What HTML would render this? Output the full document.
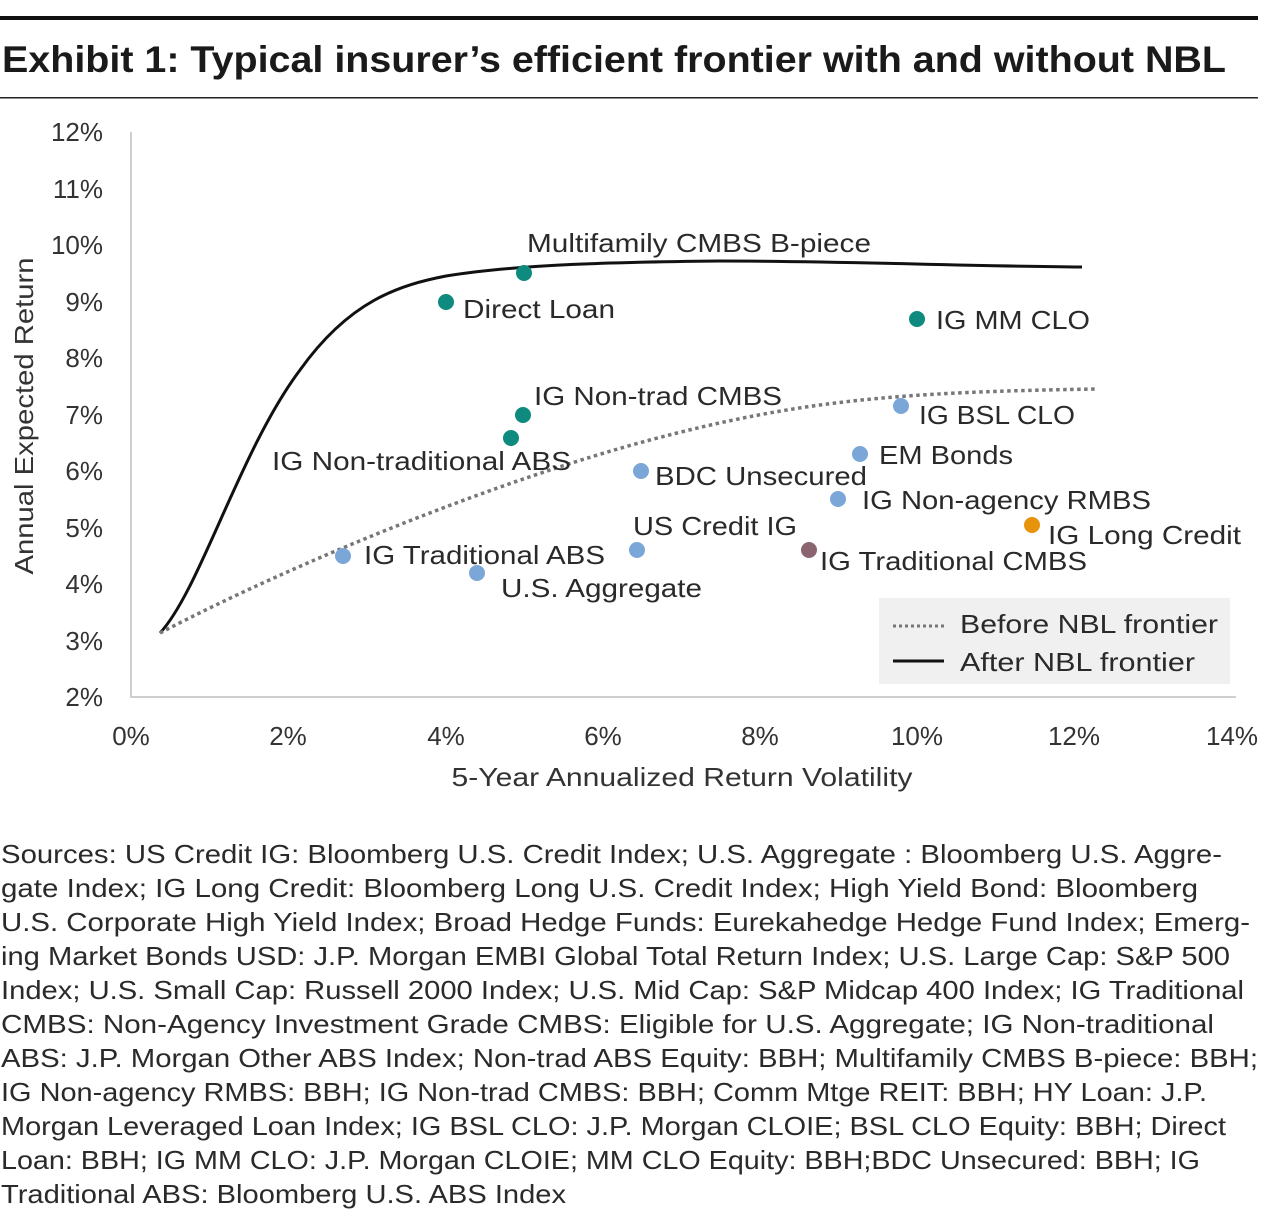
<!DOCTYPE html>
<html><head><meta charset="utf-8"><style>
html,body{margin:0;padding:0;background:#fff;}
body{width:1280px;height:1222px;position:relative;overflow:hidden;font-family:"Liberation Sans",sans-serif;color:#222;}
</style></head><body>
<svg width="1280" height="1222" xmlns="http://www.w3.org/2000/svg" style="position:absolute;left:0;top:0" font-family="Liberation Sans, sans-serif">
<rect x="0" y="16" width="1258" height="4" fill="#111"/>
<text x="2" y="72" font-size="37" font-weight="bold" fill="#1a1a1a" textLength="1224" lengthAdjust="spacingAndGlyphs">Exhibit 1: Typical insurer’s efficient frontier with and without NBL</text>
<rect x="0" y="97" width="1258" height="1.5" fill="#222"/>
<g stroke="#cfcfcf" stroke-width="2" fill="none"><path d="M131 132 V697 H1236"/></g>
<g font-size="26" fill="#333" text-anchor="end">
<text x="103" y="141">12%</text><text x="103" y="198">11%</text><text x="103" y="254">10%</text>
<text x="103" y="311">9%</text><text x="103" y="367">8%</text><text x="103" y="424">7%</text>
<text x="103" y="480">6%</text><text x="103" y="537">5%</text><text x="103" y="593">4%</text>
<text x="103" y="650">3%</text><text x="103" y="706">2%</text>
</g>
<g font-size="26" fill="#333" text-anchor="middle">
<text x="131" y="745">0%</text><text x="288" y="745">2%</text><text x="446" y="745">4%</text>
<text x="603" y="745">6%</text><text x="760" y="745">8%</text><text x="917" y="745">10%</text>
<text x="1074" y="745">12%</text><text x="1232" y="745">14%</text>
<text x="682" y="786" textLength="461" lengthAdjust="spacingAndGlyphs">5-Year Annualized Return Volatility</text>
<text transform="translate(33,416) rotate(-90)" textLength="317" lengthAdjust="spacingAndGlyphs">Annual Expected Return</text>
</g>
<path d="M160 633 C 200 590, 240 450, 300 370 C 350 300, 400 285, 446 276 C 520 264, 620 262, 720 261 C 850 261, 950 266, 1082 267" fill="none" stroke="#111" stroke-width="3"/>
<path d="M160 633 C 300 560, 500 480, 650 440 C 800 400, 900 392, 1098 389" fill="none" stroke="#777" stroke-width="3.5" stroke-dasharray="3.5 3.5"/>
<g>
<circle cx="524" cy="273" r="8" fill="#0f8a7e"/><circle cx="446" cy="302" r="8" fill="#0f8a7e"/>
<circle cx="917" cy="319" r="8" fill="#0f8a7e"/><circle cx="523" cy="415" r="8" fill="#0f8a7e"/>
<circle cx="511" cy="438" r="8" fill="#0f8a7e"/>
<circle cx="901" cy="406" r="8" fill="#7ba7d8"/><circle cx="860" cy="454" r="8" fill="#7ba7d8"/>
<circle cx="641" cy="471" r="8" fill="#7ba7d8"/><circle cx="838" cy="499" r="8" fill="#7ba7d8"/>
<circle cx="637" cy="550" r="8" fill="#7ba7d8"/><circle cx="343" cy="556" r="8" fill="#7ba7d8"/>
<circle cx="477" cy="573" r="8" fill="#7ba7d8"/>
<circle cx="1032" cy="525" r="8" fill="#e8930c"/><circle cx="809" cy="550" r="8" fill="#8a6570"/>
</g>
<g font-size="26" fill="#2a2a2a" lengthAdjust="spacingAndGlyphs">
<text x="527" y="252" textLength="344" lengthAdjust="spacingAndGlyphs">Multifamily CMBS B-piece</text>
<text x="463" y="318" textLength="152" lengthAdjust="spacingAndGlyphs">Direct Loan</text>
<text x="936" y="329" textLength="154" lengthAdjust="spacingAndGlyphs">IG MM CLO</text>
<text x="534" y="405" textLength="248" lengthAdjust="spacingAndGlyphs">IG Non-trad CMBS</text>
<text x="272" y="470" textLength="299" lengthAdjust="spacingAndGlyphs">IG Non-traditional ABS</text>
<text x="919" y="424" textLength="156" lengthAdjust="spacingAndGlyphs">IG BSL CLO</text>
<text x="879" y="464" textLength="134" lengthAdjust="spacingAndGlyphs">EM Bonds</text>
<text x="655" y="485" textLength="212" lengthAdjust="spacingAndGlyphs">BDC Unsecured</text>
<text x="862" y="509" textLength="289" lengthAdjust="spacingAndGlyphs">IG Non-agency RMBS</text>
<text x="1048" y="544" textLength="193" lengthAdjust="spacingAndGlyphs">IG Long Credit</text>
<text x="633" y="535" textLength="164" lengthAdjust="spacingAndGlyphs">US Credit IG</text>
<text x="820" y="570" textLength="267" lengthAdjust="spacingAndGlyphs">IG Traditional CMBS</text>
<text x="364" y="564" textLength="241" lengthAdjust="spacingAndGlyphs">IG Traditional ABS</text>
<text x="501" y="597" textLength="201" lengthAdjust="spacingAndGlyphs">U.S. Aggregate</text>
</g>
<rect x="879" y="598" width="351" height="86" fill="#f0f0f0"/>
<path d="M893 626 H944" stroke="#777" stroke-width="3" stroke-dasharray="3 3"/>
<path d="M893 661 H944" stroke="#111" stroke-width="3"/>
<g font-size="26" fill="#2a2a2a"><text x="960" y="633" textLength="258" lengthAdjust="spacingAndGlyphs">Before NBL frontier</text><text x="960" y="671" textLength="235" lengthAdjust="spacingAndGlyphs">After NBL frontier</text></g>
<g font-size="26" fill="#2a2a2a">
<text x="1" y="863" textLength="1221" lengthAdjust="spacingAndGlyphs">Sources: US Credit IG: Bloomberg U.S. Credit Index; U.S. Aggregate : Bloomberg U.S. Aggre-</text>
<text x="1" y="897" textLength="1197" lengthAdjust="spacingAndGlyphs">gate Index; IG Long Credit: Bloomberg Long U.S. Credit Index; High Yield Bond: Bloomberg</text>
<text x="1" y="931" textLength="1249" lengthAdjust="spacingAndGlyphs">U.S. Corporate High Yield Index; Broad Hedge Funds: Eurekahedge Hedge Fund Index; Emerg-</text>
<text x="1" y="965" textLength="1229" lengthAdjust="spacingAndGlyphs">ing Market Bonds USD: J.P. Morgan EMBI Global Total Return Index; U.S. Large Cap: S&amp;P 500</text>
<text x="1" y="999" textLength="1243" lengthAdjust="spacingAndGlyphs">Index; U.S. Small Cap: Russell 2000 Index; U.S. Mid Cap: S&amp;P Midcap 400 Index; IG Traditional</text>
<text x="1" y="1033" textLength="1213" lengthAdjust="spacingAndGlyphs">CMBS: Non-Agency Investment Grade CMBS: Eligible for U.S. Aggregate; IG Non-traditional</text>
<text x="1" y="1067" textLength="1257" lengthAdjust="spacingAndGlyphs">ABS: J.P. Morgan Other ABS Index; Non-trad ABS Equity: BBH; Multifamily CMBS B-piece: BBH;</text>
<text x="1" y="1101" textLength="1206" lengthAdjust="spacingAndGlyphs">IG Non-agency RMBS: BBH; IG Non-trad CMBS: BBH; Comm Mtge REIT: BBH; HY Loan: J.P.</text>
<text x="1" y="1135" textLength="1225" lengthAdjust="spacingAndGlyphs">Morgan Leveraged Loan Index; IG BSL CLO: J.P. Morgan CLOIE; BSL CLO Equity: BBH; Direct</text>
<text x="1" y="1169" textLength="1199" lengthAdjust="spacingAndGlyphs">Loan: BBH; IG MM CLO: J.P. Morgan CLOIE; MM CLO Equity: BBH;BDC Unsecured: BBH; IG</text>
<text x="1" y="1203" textLength="565" lengthAdjust="spacingAndGlyphs">Traditional ABS: Bloomberg U.S. ABS Index</text>
</g>
</svg>
</body></html>
